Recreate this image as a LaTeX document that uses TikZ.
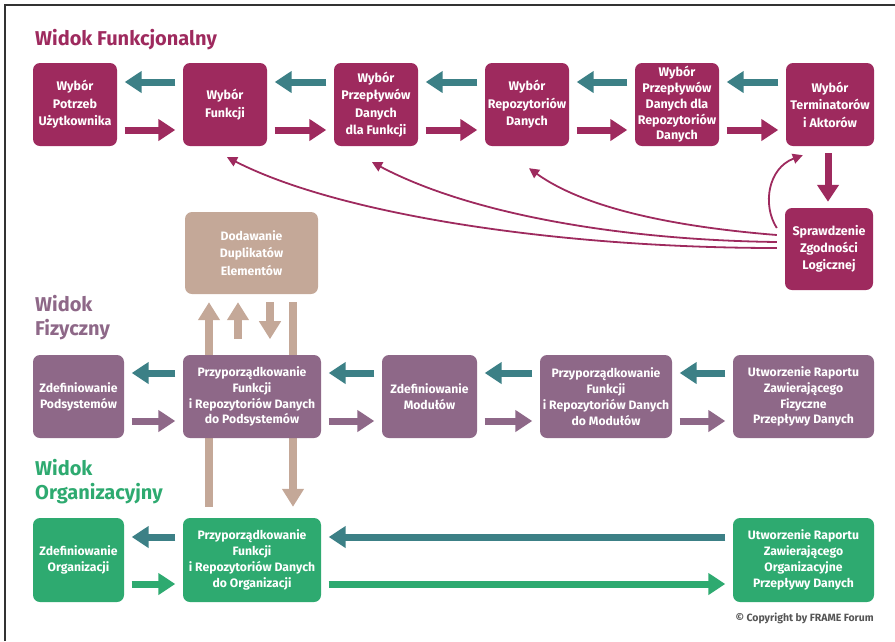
\documentclass[tikz,border=0pt]{standalone}
\usepackage{fontspec}
\setmainfont{Fira Sans}
\usetikzlibrary{arrows.meta,calc,backgrounds}

\definecolor{fmag}{HTML}{9E2A5E}
\definecolor{fteal}{HTML}{3C8086}
\definecolor{fpurple}{HTML}{8E6888}
\definecolor{ftan}{HTML}{C4A898}
\definecolor{fgreen}{HTML}{2EAA70}
\definecolor{fgray}{HTML}{555555}
\definecolor{fframe}{HTML}{333333}

\begin{document}
\begin{tikzpicture}[x=1pt,y=-1pt,
  box/.style={rounded corners=7pt, inner sep=0pt, align=center, text=white,
    font=\bfseries\fontsize{12.2}{15.8}\selectfont},
  fbox/.style={box, fill=fmag, minimum height=83pt,
    font=\bfseries\fontsize{12.5}{17.5}\selectfont},
  pbox/.style={box, fill=fpurple, minimum height=83pt},
  obox/.style={box, fill=fgreen, minimum height=84pt},
  dbox/.style={box, fill=ftan, minimum height=82pt,
    font=\bfseries\fontsize{12.2}{17.5}\selectfont},
  blk/.style={line width=7pt, -{Triangle[length=17pt,width=21pt]},
    shorten <=7.5pt, shorten >=7.5pt},
  back/.style={blk, draw=fteal},
  fwdm/.style={blk, draw=fmag},
  fwdp/.style={blk, draw=fpurple},
  fwdo/.style={blk, draw=fgreen},
  tanarr/.style={line width=7.5pt, draw=ftan, -{Triangle[length=18pt,width=21pt]}},
  thin/.style={draw=fmag, line width=1.8pt, -{Triangle[length=10pt,width=10pt]}},
  title/.style={anchor=base west, inner sep=0pt, align=left,
    font=\bfseries\fontsize{20}{24}\selectfont}
]
\useasboundingbox (0,0) rectangle (895,641);

% page frame
\draw[fframe, line width=1.3pt] (5,641) -- (5,5) -- (895,5);

% section titles (base anchor sits on the last line)
\node[title, text=fmag] (tfun) at (35,45) {Widok Funkcjonalny};
\node[title, text=fpurple] (tfiz) at (35,335) {Widok\\Fizyczny};
\node[title, text=fgreen] (torg) at (35,499) {Widok\\Organizacyjny};

% functional view
\node[fbox, minimum width=84pt] (b1) at (75,104.5) {Wybór\\Potrzeb\\Użytkownika};
\node[fbox, minimum width=84pt] (b2) at (225,104.5) {Wybór\\Funkcji};
\node[fbox, minimum width=84pt] (b3) at (376,104.5) {Wybór\\Przepływów\\Danych\\dla Funkcji};
\node[fbox, minimum width=84pt] (b4) at (527,104.5) {Wybór\\Repozytoriów\\Danych};
\node[fbox, minimum width=84pt, font=\bfseries\fontsize{12.5}{15.8}\selectfont] (b5) at (677,104.5)
  {Wybór\\Przepływów\\Danych dla\\Repozytoriów\\Danych};
\node[fbox, minimum width=88pt] (b6) at (830,104.5) {Wybór\\Terminatorów\\i Aktorów};
\node[fbox, minimum width=88pt, minimum height=82pt,
  font=\bfseries\fontsize{12.5}{17}\selectfont] (s) at (829,249)
  {Sprawdzenie\\Zgodności\\Logicznej};

% duplicates
\node[dbox, minimum width=133pt] (d) at (251.5,253) {Dodawanie\\Duplikatów\\Elementów};

% physical view
\node[pbox, minimum width=91pt] (p1) at (78.5,396.5) {Zdefiniowanie\\Podsystemów};
\node[pbox, minimum width=138pt] (p2) at (252,396.5)
  {Przyporządkowanie\\Funkcji\\i Repozytoriów Danych\\do Podsystemów};
\node[pbox, minimum width=95pt] (p3) at (429.5,396.5) {Zdefiniowanie\\Modułów};
\node[pbox, minimum width=132pt] (p4) at (606,396.5)
  {Przyporządkowanie\\Funkcji\\i Repozytoriów Danych\\do Modułów};
\node[pbox, minimum width=141pt] (p5) at (803.5,396.5)
  {Utworzenie Raportu\\Zawierającego\\Fizyczne\\Przepływy Danych};

% organisational view
\node[obox, minimum width=91pt] (o1) at (78.5,560) {Zdefiniowanie\\Organizacji};
\node[obox, minimum width=138pt] (o2) at (252,560)
  {Przyporządkowanie\\Funkcji\\i Repozytoriów Danych\\do Organizacji};
\node[obox, minimum width=141pt] (o3) at (803.5,560)
  {Utworzenie Raportu\\Zawierającego\\Organizacyjne\\Przepływy Danych};

\node[anchor=base east, inner sep=0pt, text=fgray,
  font=\bfseries\fontsize{10.5}{12}\selectfont] (copy) at (874,621)
  {© Copyright by FRAME Forum};

% functional row arrows
\foreach \l/\r in {b1/b2,b2/b3,b3/b4,b4/b5,b5/b6}{
  \draw[back] ($(\r.west)+(0,-22.5)$) -- ($(\l.east)+(0,-22.5)$);
  \draw[fwdm] ($(\l.east)+(0,25.5)$) -- ($(\r.west)+(0,25.5)$);
}
\draw[blk, draw=fmag, shorten <=7pt, shorten >=6pt]
  ($(b6.south)+(-2,0)$) -- ($(s.north)+(-1,0)$);

% feedback curves from the logic check
\draw[thin] ($(s.west)+(-8,-1)$) .. controls (560,248) and (340,215) .. ($(b2.south)+(2,11)$);
\draw[thin] ($(s.west)+(-8,-7)$) .. controls (620,240) and (470,214) .. ($(b3.south)+(-4,16)$);
\draw[thin] ($(s.west)+(-8,-14)$) .. controls (690,228) and (590,212) .. ($(b4.south)+(2,22)$);
\draw[thin] ($(s.west)+(-8,-21)$) .. controls (762,205) and (768,168) .. ($(b6.south west)+(17,9)$);

% physical row arrows
\foreach \l/\r in {p1/p2,p2/p3,p3/p4,p4/p5}{
  \draw[back] ($(\r.west)+(0,-23.5)$) -- ($(\l.east)+(0,-23.5)$);
  \draw[fwdp] ($(\l.east)+(0,24.5)$) -- ($(\r.west)+(0,24.5)$);
}

% organisational row arrows
\foreach \l/\r in {o1/o2,o2/o3}{
  \draw[back] ($(\r.west)+(0,-23)$) -- ($(\l.east)+(0,-23)$);
  \draw[fwdo] ($(\l.east)+(0,24)$) -- ($(\r.west)+(0,24)$);
}

% vertical links to the duplicates box, passing behind the physical row
\coordinate (u1) at ($(d.south)+(-13.5,45)$);
\coordinate (d1) at ($(d.south)+(18.5,45)$);
\begin{pgfonlayer}{background}
\draw[tanarr] ($(o2.north)+(-43,-11)$) -- ($(d.south)+(-42.5,8)$);
\draw[tanarr] (u1) -- ($(d.south)+(-13.5,8)$);
\draw[tanarr] ($(d.south)+(18.5,8)$) -- (d1);
\draw[tanarr] ($(d.south)+(41.5,8)$) -- ($(o2.north)+(41,-11)$);
\end{pgfonlayer}
\end{tikzpicture}
\end{document}
